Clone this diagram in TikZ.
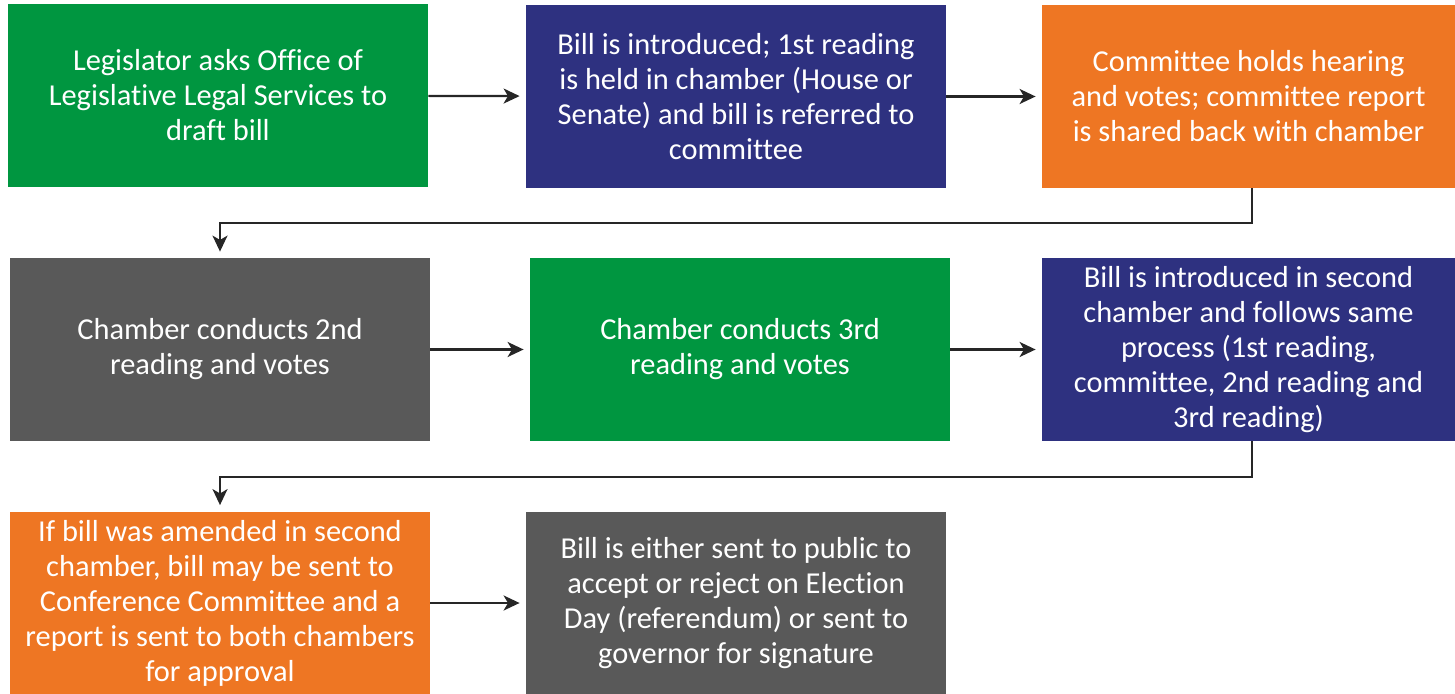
\documentclass[tikz,border=0pt]{standalone}
\usepackage{fontspec}
\setmainfont[Ligatures=NoCommon]{Carlito}
\usepackage{xcolor}
\usetikzlibrary{positioning,arrows.meta}

\definecolor{stepgreen}{RGB}{0,150,64}
\definecolor{stepblue}{RGB}{46,49,128}
\definecolor{steporange}{RGB}{238,118,35}
\definecolor{stepgray}{RGB}{89,89,89}
\definecolor{arrowgray}{RGB}{38,38,38}

\begin{document}
\begin{tikzpicture}[
	  x=0.5pt, y=-0.5pt,
	  %style for arrows
	  arrw/.style={line width=1.1pt, draw=arrowgray, -{Stealth[length=8pt,width=7.5pt,inset=2.2pt]}, shorten >=3pt},
      % style for boxes
      box/.style={rectangle, minimum width=210pt, minimum height=91.5pt, inner sep=0pt,
        align=center, text=white, font=\fontsize{15.2}{17.5}\selectfont},
      % narrow boxes at right edge
      nbox/.style={box, minimum width=206.5pt}]

      \useasboundingbox (0,0) rectangle (1455,694);

      \node[box, fill=stepgreen] (ask) at (218,95.5) {Legislator asks Office of\\Legislative Legal Services to\\draft bill};
      \node[box, fill=stepblue] (intro) at (736,96.5) {Bill is introduced; 1st reading\\is held in chamber (House or\\Senate) and bill is referred to\\committee};
      \node[nbox, fill=steporange] (hearing) at (1248.5,96.5) {Committee holds hearing\\and votes; committee report\\is shared back with chamber};

      \node[box, fill=stepgray] (second) at (220,349.5) {Chamber conducts 2nd\\reading and votes};
      \node[box, fill=stepgreen] (third) at (740,349.5) {Chamber conducts 3rd\\reading and votes};
      \node[nbox, fill=stepblue] (other) at (1248.5,349.5) {Bill is introduced in second\\chamber and follows same\\process (1st reading,\\committee, 2nd reading and\\3rd reading)};

      \node[box, fill=steporange] (conf) at (220,603) {If bill was amended in second\\chamber, bill may be sent to\\Conference Committee and a\\report is sent to both chambers\\for approval};
      \node[box, fill=stepgray] (final) at (736,603) {Bill is either sent to public to\\accept or reject on Election\\Day (referendum) or sent to\\governor for signature};

      % row connections
      \draw[arrw] (ask) -- (intro);
      \draw[arrw] (intro) -- (hearing);
      \draw[arrw] (second) -- (third);
      \draw[arrw] (third) -- (other);
      \draw[arrw] (conf) -- (final);

      % elbows between rows
      \draw[arrw] ([xshift=1.75pt]hearing.south) |- (220,223) -- (second.north);
      \draw[arrw] ([xshift=1.75pt]other.south) |- (220,477) -- (conf.north);

\end{tikzpicture}
\end{document}
